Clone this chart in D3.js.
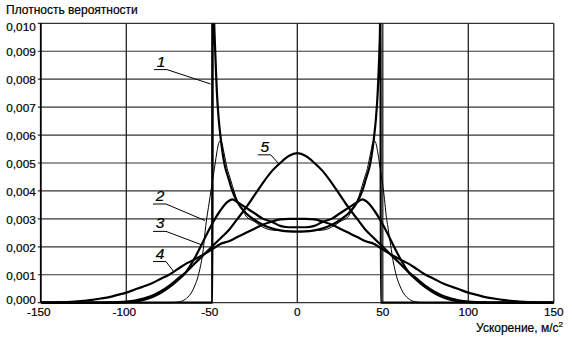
<!DOCTYPE html>
<html>
<head>
<meta charset="utf-8">
<script src="https://cdn.jsdelivr.net/npm/d3@7"></script>
<style>
  html, body { margin: 0; padding: 0; background: #fff; }
  svg { display: block; }
  text { font-family: "Liberation Sans", Arial, sans-serif; fill: #000; stroke: #000; stroke-width: 0.2px; }
</style>
</head>
<body>
<svg id="chart" width="572" height="337"></svg>
<script>
// Axis ticks
const xTicks = [-150, -100, -50, 0, 50, 100, 150];
const yTicks = [0, 0.001, 0.002, 0.003, 0.004, 0.005, 0.006, 0.007, 0.008, 0.009, 0.010];

// Curve 1: pure sine
const c1x = [-150, -60, -49.6, -49.45, -49.0, -48.6, -48.0, -47.5, -47, -46, -45, -44, -43, -42, -41, -40, -38, -35, -30, -25, -20, -15, -10, -5, 0,
             5, 10, 15, 20, 25, 30, 35, 38, 40, 41, 42, 43, 44, 45, 46, 47, 47.5, 48.0, 48.4, 48.65, 48.8, 60, 150];
const c1y = [0, 0, 0, 0.0125, 0.0110, 0.0100, 0.0090, 0.0082, 0.0075, 0.0066, 0.0060, 0.0055, 0.0051, 0.0048, 0.0046, 0.0044, 0.0040, 0.0036, 0.0032, 0.00296, 0.00278, 0.00266, 0.00259, 0.00255, 0.00254,
             0.00255, 0.00259, 0.00266, 0.00278, 0.00296, 0.0032, 0.0036, 0.0040, 0.0044, 0.0046, 0.0048, 0.0051, 0.0055, 0.0060, 0.0066, 0.0075, 0.0082, 0.0090, 0.0100, 0.0125, 0, 0, 0];

// Curve 2: sine with weak random component
const c2x = [-150, -75, -70, -67, -64, -62, -60, -58, -57, -56, -55, -54, -53, -52, -51, -50, -49, -48, -47, -46, -45, -44, -43, -42, -41, -40, -38, -36, -34, -32, -30, -25, -20, -15, -10, -5, 0,
             5, 10, 15, 20, 25, 30, 32, 34, 36, 38, 40, 41, 42, 43, 44, 45, 46, 47, 48, 49, 50, 51, 52, 53, 54, 55, 56, 57, 58, 60, 62, 64, 67, 70, 75, 150];
const c2y = [0, 0, 0.00002, 0.00007, 0.0002, 0.00035, 0.0006, 0.00095, 0.0012, 0.0015, 0.0019, 0.0025, 0.0030, 0.0034, 0.0038, 0.0042, 0.0046, 0.0050, 0.0054, 0.0057, 0.0058, 0.0057, 0.0054, 0.0051, 0.0048, 0.0046, 0.0042, 0.0038, 0.0035, 0.0033, 0.0031, 0.0029, 0.0027, 0.0026, 0.00258, 0.00256, 0.00256,
             0.00256, 0.00258, 0.0026, 0.0027, 0.0029, 0.0031, 0.0033, 0.0035, 0.0038, 0.0042, 0.0046, 0.0048, 0.0051, 0.0054, 0.0057, 0.0058, 0.0057, 0.0054, 0.0050, 0.0046, 0.0042, 0.0037, 0.0031, 0.0027, 0.0023, 0.0019, 0.0015, 0.0012, 0.00095, 0.0006, 0.00035, 0.0002, 0.00007, 0.00002, 0, 0];

// Curve 3: sine with moderate random component
const c3x = [-150, -110, -100, -95, -90, -85, -80, -75, -70, -65, -60, -55, -50, -45, -41, -38, -35, -30, -25, -20, -15, -10, -5, 0,
             5, 10, 15, 20, 25, 30, 35, 38, 41, 45, 50, 55, 60, 65, 70, 75, 80, 85, 90, 95, 100, 110, 150];
const c3y = [0, 0, 0.00002, 0.00005, 0.0001, 0.0002, 0.00035, 0.00055, 0.0008, 0.0011, 0.0016, 0.0022, 0.0028, 0.0033, 0.0036, 0.0037, 0.0036, 0.0034, 0.0032, 0.0030, 0.0029, 0.00275, 0.0027, 0.0027,
             0.0027, 0.00275, 0.0029, 0.0030, 0.0032, 0.0034, 0.0036, 0.0037, 0.0036, 0.0033, 0.0028, 0.0022, 0.0016, 0.0011, 0.0008, 0.00055, 0.00035, 0.0002, 0.0001, 0.00005, 0.00002, 0, 0];

// Common abscissa for curves 4 and 5
const gx = [-150, -145, -140, -135, -130, -125, -120, -115, -110, -105, -100, -95, -90, -85, -80, -75, -70, -65, -60, -55, -50, -45, -40, -35, -30, -25, -20, -15, -10, -5, 0,
            5, 10, 15, 20, 25, 30, 35, 40, 45, 50, 55, 60, 65, 70, 75, 80, 85, 90, 95, 100, 105, 110, 115, 120, 125, 130, 135, 140, 145, 150];

// Curve 4: sine with strong random component
const c4y = [0, 0, 0.00001, 0.00002, 0.00004, 0.00007, 0.0001, 0.00015, 0.0002, 0.00028, 0.00036, 0.00047, 0.00058, 0.0007, 0.00085, 0.001, 0.0012, 0.0014, 0.00155, 0.00172, 0.0019, 0.0021, 0.0022, 0.00235, 0.0025, 0.00265, 0.0028, 0.0029, 0.00298, 0.003, 0.003,
             0.003, 0.00298, 0.0029, 0.0028, 0.00265, 0.0025, 0.00235, 0.0022, 0.0021, 0.0019, 0.00172, 0.00155, 0.0014, 0.0012, 0.001, 0.00085, 0.0007, 0.00058, 0.00047, 0.00036, 0.00028, 0.0002, 0.00015, 0.0001, 0.00007, 0.00004, 0.00002, 0.00001, 0, 0];

// Curve 5: random vibration
const c5y = [0, 0, 0, 0, 0, 0, 0, 0, 0.00001, 0.00002, 0.00004, 0.00008, 0.00015, 0.00025, 0.0004, 0.0006, 0.00085, 0.0011, 0.0014, 0.0017, 0.002, 0.0023, 0.0026, 0.003, 0.0034, 0.00385, 0.0043, 0.0047, 0.0050, 0.00525, 0.00535,
             0.00525, 0.0050, 0.0047, 0.0043, 0.00385, 0.0034, 0.003, 0.0026, 0.0023, 0.002, 0.0017, 0.0014, 0.0011, 0.00085, 0.0006, 0.0004, 0.00025, 0.00015, 0.00008, 0.00004, 0.00002, 0.00001, 0, 0, 0, 0, 0, 0, 0, 0];

// Curve call-outs: number, text anchor and leader end (data units)
const labelText = ["1", "2", "3", "4", "5"];
const labelAt   = [[-79.7, 0.00845], [-80.3, 0.00364], [-80.3, 0.00266], [-80.3, 0.00158], [-19.0, 0.00540]];
const leaderTo  = [[-50.8, 0.00783], [-54.0, 0.00294], [-55.9, 0.00207], [-72.5, 0.00113], [-11.1, 0.00499]];

const curves = [
  { xs: c1x, ys: c1y, w: 2.2 },
  { xs: c2x, ys: c2y, w: 1.0 },
  { xs: c3x, ys: c3y, w: 2.2 },
  { xs: gx,  ys: c4y, w: 2.2 },
  { xs: gx,  ys: c5y, w: 2.2 }
];

const svg = d3.select("#chart");
const W = 572, H = 337;
const m = { left: 40.8, right: W - 553.8, top: 23.3, bottom: H - 302.7 };

const x = d3.scaleLinear().domain([-150, 150]).range([m.left, W - m.right]);
const y = d3.scaleLinear().domain([0, 0.010]).range([H - m.bottom, m.top]);

const loc = d3.formatLocale({ decimal: ",", thousands: " ", grouping: [3], currency: ["", ""], minus: "-" });
const fy = loc.format(".3f");
const fx = loc.format("d");

// Grid
const grid = svg.append("g");
grid.selectAll("line.h").data(yTicks).join("line")
  .attr("x1", m.left - 3).attr("x2", W - m.right)
  .attr("y1", d => y(d)).attr("y2", d => y(d))
  .attr("stroke", "#333").attr("stroke-width", 1.2);
grid.selectAll("line.v").data(xTicks).join("line")
  .attr("x1", d => x(d)).attr("x2", d => x(d))
  .attr("y1", m.top).attr("y2", H - m.bottom)
  .attr("stroke", (d, i) => i === 0 ? "#000" : "#222")
  .attr("stroke-width", (d, i) => i === 0 ? 1.8 : 1.3);

// Tick labels (end labels kept inside the frame height)
const yLabelCenter = d => Math.min(Math.max(y(d) + 1, m.top + 3.4), H - m.bottom - 2.7);
svg.append("g").selectAll("text").data(yTicks).join("text")
  .attr("x", m.left - 5).attr("y", d => yLabelCenter(d) + 4.2)
  .attr("text-anchor", "end").attr("font-size", 11.8)
  .text(d => fy(d));
svg.append("g").selectAll("text").data(xTicks).join("text")
  .attr("x", d => x(d) - (d < 0 ? 2 : 0)).attr("y", 315.5)
  .attr("text-anchor", "middle").attr("font-size", 11.8)
  .text(d => fx(d));

// Axis titles
svg.append("text").attr("x", 6).attr("y", 14).attr("font-size", 12).text("Плотность вероятности");
const xt = svg.append("text").attr("x", 563).attr("y", 332).attr("text-anchor", "end").attr("font-size", 12);
xt.append("tspan").text("Ускорение, м/с");
xt.append("tspan").attr("font-size", 8).attr("dy", -5).text("2");

// Curves
svg.append("clipPath").attr("id", "plot").append("rect")
  .attr("x", m.left).attr("y", m.top)
  .attr("width", W - m.left - m.right).attr("height", H - m.top - m.bottom + 1.5);

const line = d3.line().x(d => x(d[0])).y(d => y(d[1])).curve(d3.curveMonotoneX);
svg.append("g").attr("clip-path", "url(#plot)")
  .selectAll("path").data(curves).join("path")
  .attr("d", c => line(c.xs.map((v, i) => [v, c.ys[i]])))
  .attr("fill", "none").attr("stroke", "#000")
  .attr("stroke-width", c => c.w).attr("stroke-linejoin", "round");

// Call-outs
const ann = svg.append("g");
labelText.forEach((t, i) => {
  const tx = x(labelAt[i][0]), ty = y(labelAt[i][1]);
  ann.append("text").attr("x", tx).attr("y", ty).attr("text-anchor", "middle")
    .attr("font-size", 15.5).attr("font-style", "italic").text(t);
  ann.append("line").attr("x1", tx - 7).attr("x2", tx + 6).attr("y1", ty + 3).attr("y2", ty + 3)
    .attr("stroke", "#000").attr("stroke-width", 1);
  ann.append("line").attr("x1", tx + 6).attr("y1", ty + 3)
    .attr("x2", x(leaderTo[i][0])).attr("y2", y(leaderTo[i][1]))
    .attr("stroke", "#000").attr("stroke-width", 1);
});
</script>
</body>
</html>
